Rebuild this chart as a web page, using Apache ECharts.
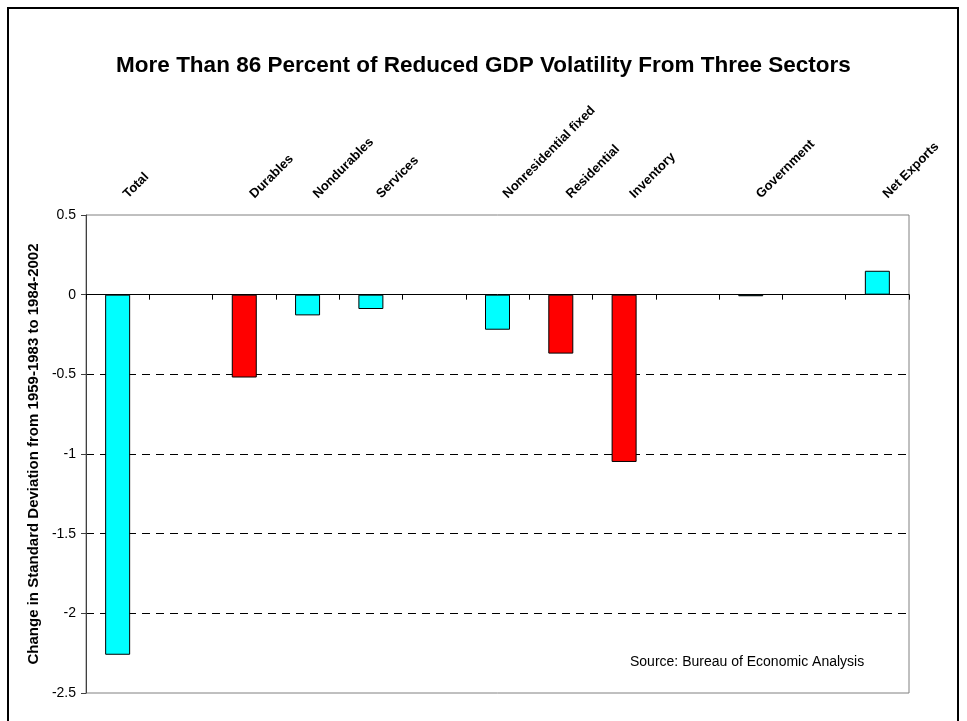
<!DOCTYPE html>
<html>
<head>
<meta charset="utf-8">
<script src="https://cdn.jsdelivr.net/npm/echarts@6/dist/echarts.min.js"></script>
<style>
html,body{margin:0;padding:0;background:#fff;}
#c{width:967px;height:721px;}
</style>
</head>
<body>
<div id="c"></div>
<script>
var categories = ['Total', '', 'Durables', 'Nondurables', 'Services', '', 'Nonresidential fixed', 'Residential', 'Inventory', '', 'Government', '', 'Net Exports'];
var values = [-2.26, null, -0.52, -0.13, -0.09, null, -0.22, -0.37, -1.05, null, -0.01, null, 0.15];
var highlighted = ['Durables', 'Residential', 'Inventory'];
var yTicks = [-2.5, -2, -1.5, -1, -0.5, 0, 0.5];

var FONT = "'Liberation Sans', Arial, sans-serif";
var chart = echarts.init(document.getElementById('c'));

var barData = values.map(function (v, i) {
  var hot = highlighted.indexOf(categories[i]) >= 0;
  return { value: v, itemStyle: { color: hot ? '#FF0000' : '#00FFFF' } };
});

chart.setOption({
  animation: false,
  backgroundColor: '#ffffff',
  title: {
    text: 'More Than 86 Percent of Reduced GDP Volatility From Three Sectors',
    left: 'center',
    top: 49,
    textStyle: { fontFamily: FONT, fontSize: 22.5, fontWeight: 'bold', color: '#000' }
  },
  graphic: [
    { type: 'rect', shape: { x: 8, y: 8, width: 950, height: 740 }, style: { fill: 'none', stroke: '#000', lineWidth: 2 }, z: 100 },
    { type: 'text', left: 630, top: 655, style: { text: 'Source: Bureau of Economic Analysis', font: '14px ' + FONT, fill: '#000' }, z: 100 }
  ],
  grid: {
    left: 86, right: 58, top: 215, bottom: 28,
    show: true, borderColor: '#808080', borderWidth: 1, backgroundColor: 'transparent'
  },
  xAxis: [
    {
      type: 'category', data: categories, position: 'bottom',
      axisLine: { onZero: true, lineStyle: { color: '#000', width: 1 } },
      axisTick: { show: true, interval: 0, length: 5, lineStyle: { color: '#000' } },
      axisLabel: { show: false },
      splitLine: { show: false }
    },
    {
      type: 'category', data: categories, position: 'top',
      axisLine: { show: false }, axisTick: { show: false },
      axisLabel: { show: true, interval: 0, rotate: -45, margin: 11, padding: [0, 0, 0, 11], fontFamily: FONT, fontSize: 13, fontWeight: 'bold', color: '#000' },
      splitLine: { show: false }
    }
  ],
  yAxis: {
    type: 'value', min: -2.5, max: 0.5, interval: 0.5,
    name: 'Change in Standard Deviation from 1959-1983 to 1984-2002',
    nameLocation: 'middle', nameGap: 38, nameRotate: 90,
    nameTextStyle: { fontFamily: FONT, fontSize: 15, fontWeight: 'bold', color: '#000' },
    axisLine: { show: true, lineStyle: { color: '#404040', width: 1 } },
    axisTick: { show: true, length: 5, lineStyle: { color: '#404040' } },
    axisLabel: {
      fontFamily: FONT, fontSize: 14, color: '#000', margin: 10,
      formatter: function (v) { return String(Math.round(v * 10) / 10); }
    },
    splitLine: {
      show: true,
      lineStyle: {
        color: yTicks.map(function (t) { return (t === 0 || t === 0.5 || t === -2.5) ? 'rgba(0,0,0,0)' : '#000'; }),
        type: [8, 6], width: 1
      }
    }
  },
  series: [{
    type: 'bar', data: barData, xAxisIndex: 0, barWidth: 25,
    itemStyle: { borderColor: '#000', borderWidth: 1 },
    z: 3
  }]
});
</script>
</body>
</html>
